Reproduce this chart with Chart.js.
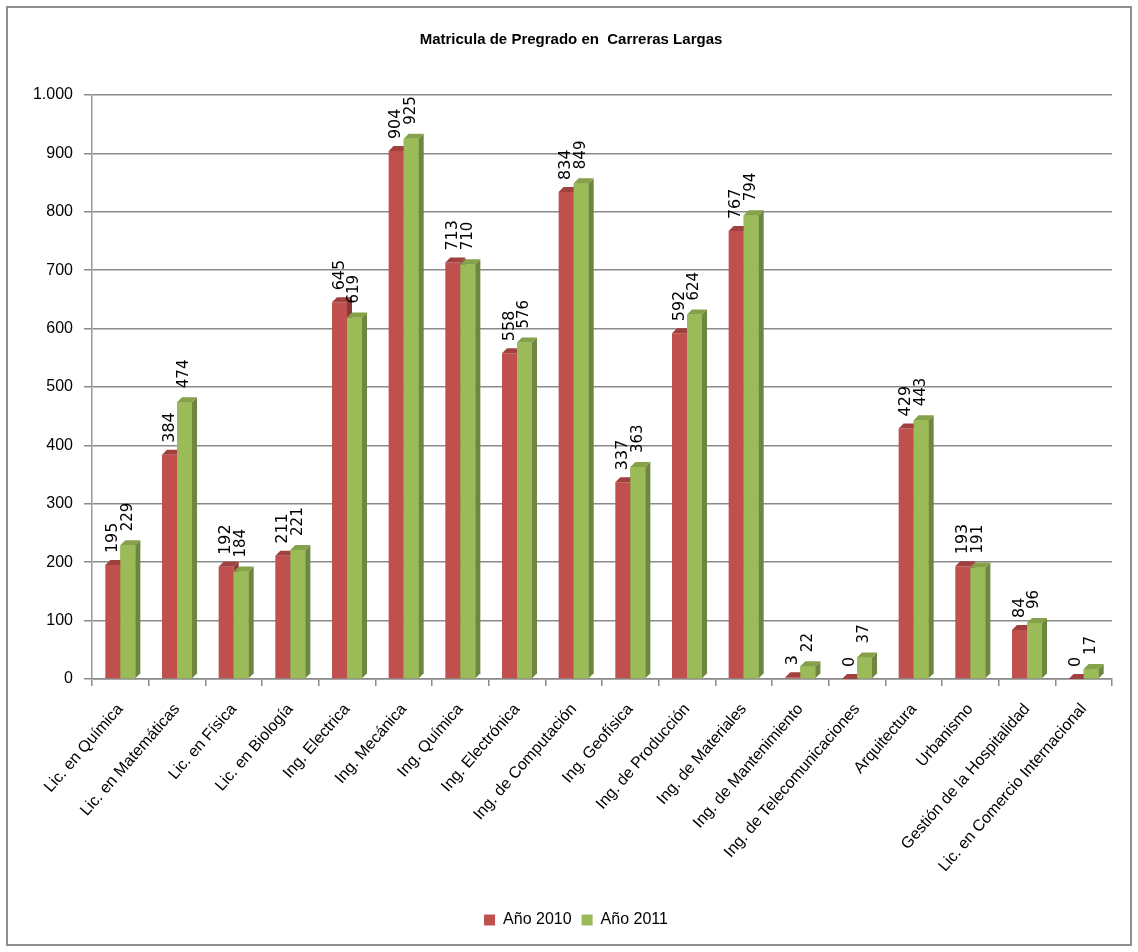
<!DOCTYPE html>
<html>
<head>
<meta charset="utf-8">
<title>Matricula de Pregrado en Carreras Largas</title>
<script src="https://cdn.jsdelivr.net/npm/chart.js@4/dist/chart.umd.min.js"></script>
<style>
  body { margin: 0; background: #fff; }
  #frame {
    position: absolute; left: 6px; top: 6px; width: 1126px; height: 940px;
    box-sizing: border-box; border: 2px solid #8f8f8f;
  }
  #wrap { position: absolute; left: 8px; top: 8px; width: 1120px; height: 930px; }
</style>
</head>
<body>
<div id="frame"></div>
<div id="wrap"><canvas id="matriculaChart"></canvas></div>
<script>
/*
  Matricula de pregrado en carreras largas, 2010 vs 2011.
  Bar chart with a light 3D look and rotated value labels.
*/
const carreras = [
  "Lic. en Química", "Lic. en Matemáticas", "Lic. en Física", "Lic. en Biología",
  "Ing. Electrica", "Ing. Mecánica", "Ing. Química", "Ing. Electrónica",
  "Ing. de Computación", "Ing. Geofísica", "Ing. de Producción", "Ing. de Materiales",
  "Ing. de Mantenimiento", "Ing. de Telecomunicaciones", "Arquitectura", "Urbanismo",
  "Gestión de la Hospitalidad", "Lic. en Comercio Internacional",
];
const anio2010 = [195, 384, 192, 211, 645, 904, 713, 558, 834, 337, 592, 767, 3, 0, 429, 193, 84, 0];
const anio2011 = [229, 474, 184, 221, 619, 925, 710, 576, 849, 363, 624, 794, 22, 37, 443, 191, 96, 17];
const seriesNames = ["Año 2010", "Año 2011"];
const yTicksMax = 1000;
const yTicksStep = 100;

const frontColors = ["#C0504D", "#9BBB59"];
const sideColors = ["#8C3836", "#6E8740"];
const topColors = ["#A0413F", "#85A24B"];
const labelFonts = ["16px 'DejaVu Sans', sans-serif", "15px 'DejaVu Sans', sans-serif"];
const labelGaps = [12, 14];

Chart.defaults.font.family = "'Liberation Sans', Arial, sans-serif";
Chart.defaults.color = "#000";

// draws side / top faces and the rotated value labels
const bar3d = {
  id: "bar3d",
  afterDatasetsDraw(chart) {
    const ctx = chart.ctx;
    const d = 5;
    const poly = (pts) => {
      ctx.beginPath();
      ctx.moveTo(pts[0], pts[1]);
      for (let k = 2; k < pts.length; k += 2) ctx.lineTo(pts[k], pts[k + 1]);
      ctx.closePath();
      ctx.fill();
    };
    ctx.save();
    chart.data.datasets.forEach((ds, i) => {
      const meta = chart.getDatasetMeta(i);
      meta.data.forEach((bar) => {
        const { x, y, base, width } = bar.getProps(["x", "y", "base", "width"], true);
        const l = x - width / 2;
        const r = x + width / 2;
        if (i > 0) {
          ctx.fillStyle = frontColors[i];
          ctx.fillRect(l, y, width, base - y);
        }
        ctx.fillStyle = sideColors[i];
        poly([r, y, r + d, y - d, r + d, base - d, r, base]);
        ctx.fillStyle = topColors[i];
        poly([l, y, l + d, y - d, r + d, y - d, r, y]);
      });
    });
    chart.data.datasets.forEach((ds, i) => {
      const meta = chart.getDatasetMeta(i);
      ctx.font = labelFonts[i];
      ctx.fillStyle = "#000";
      ctx.textAlign = "left";
      ctx.textBaseline = "middle";
      meta.data.forEach((bar, j) => {
        const { x, y } = bar.getProps(["x", "y"], true);
        ctx.save();
        ctx.translate(x, y - labelGaps[i]);
        ctx.rotate(-Math.PI / 2);
        ctx.fillText(String(ds.data[j]), 0, 0);
        ctx.restore();
      });
    });
    ctx.restore();
  },
};

// title and legend sit a little right of the canvas centre in the original
const nudgeBoxes = {
  id: "nudgeBoxes",
  afterLayout(chart) {
    if (chart.titleBlock) {
      chart.titleBlock.left += 11;
      chart.titleBlock.right += 11;
    }
    if (chart.legend) {
      chart.legend.left += 16;
      chart.legend.right += 16;
    }
  },
};

function renderChart() {
  const canvas = document.getElementById("matriculaChart");
  if (!canvas || !window.Chart) return;

  new Chart(canvas, {
    type: "bar",
    data: {
      labels: carreras,
      datasets: [
        {
          label: seriesNames[0],
          data: anio2010,
          backgroundColor: frontColors[0],
          borderWidth: 0,
          categoryPercentage: 0.53,
          barPercentage: 1.0,
        },
        {
          label: seriesNames[1],
          data: anio2011,
          backgroundColor: frontColors[1],
          borderWidth: 0,
          categoryPercentage: 0.53,
          barPercentage: 1.0,
        },
      ],
    },
    options: {
      responsive: true,
      maintainAspectRatio: false,
      animation: false,
      layout: { padding: { left: 0, right: 16, top: 0, bottom: 0 } },
      scales: {
        x: {
          grid: {
            display: true,
            drawOnChartArea: false,
            drawTicks: true,
            tickLength: 7,
            color: "#8a8a8a",
            lineWidth: 1.5,
          },
          border: { color: "#8a8a8a", width: 1.5 },
          ticks: {
            autoSkip: false,
            maxRotation: 49,
            minRotation: 49,
            padding: 14,
            font: { size: 16 },
          },
          afterFit(scale) {
            scale.height = 223;
          },
        },
        y: {
          min: 0,
          max: yTicksMax,
          grid: {
            color: "#8a8a8a",
            lineWidth: 1.5,
            tickLength: 8,
          },
          border: { color: "#9a9a9a", width: 1.5 },
          ticks: {
            stepSize: yTicksStep,
            padding: 11,
            font: { size: 16 },
            callback: (v) => v.toLocaleString("de-DE"),
          },
          afterFit(scale) {
            scale.width = 84;
          },
        },
      },
      plugins: {
        title: {
          display: true,
          text: "Matricula de Pregrado en  Carreras Largas",
          font: { size: 15, weight: "bold" },
          color: "#000",
          padding: { top: 23, bottom: 46 },
        },
        legend: {
          position: "bottom",
          labels: {
            boxWidth: 11,
            boxHeight: 11,
            padding: 10,
            font: { size: 16 },
          },
        },
        tooltip: { enabled: false },
      },
    },
    plugins: [bar3d, nudgeBoxes],
  });
}

document.addEventListener("DOMContentLoaded", renderChart);
</script>
</body>
</html>
